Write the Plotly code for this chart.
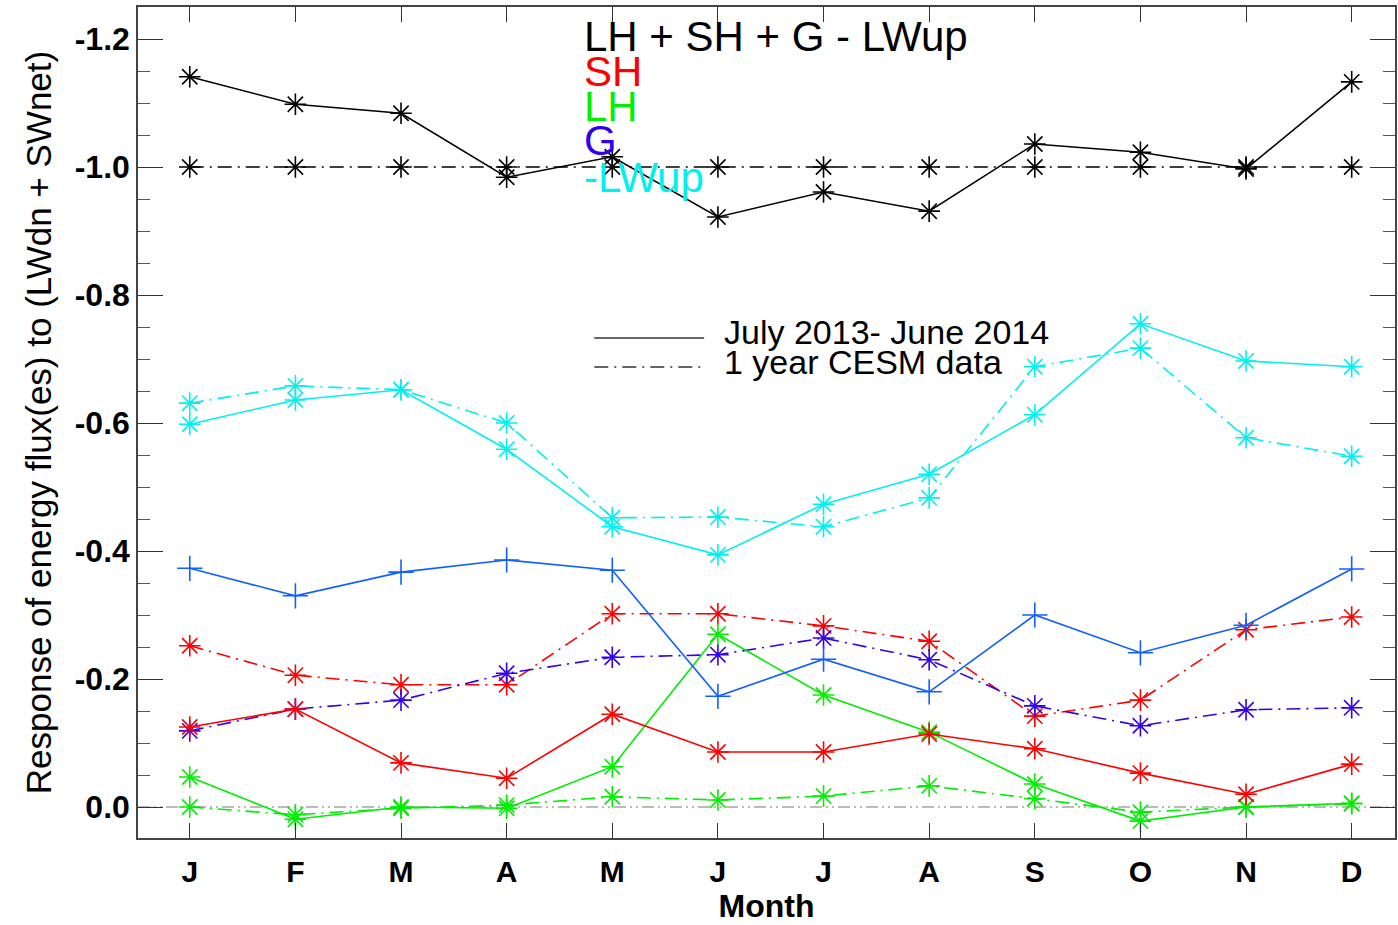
import plotly.graph_objects as go

months = ["J", "F", "M", "A", "M", "J", "J", "A", "S", "O", "N", "D"]
month_idx = list(range(1, 13))

# July 2013 - June 2014 (solid)
total_obs = [-1.141, -1.098, -1.084, -0.984, -1.016, -0.922, -0.961, -0.931, -1.036, -1.023, -0.997, -1.133]
lwup_obs = [-0.598, -0.636, -0.652, -0.559, -0.438, -0.394, -0.473, -0.520, -0.613, -0.755, -0.697, -0.688]
g_obs = [-0.373, -0.330, -0.367, -0.386, -0.370, -0.173, -0.231, -0.180, -0.300, -0.241, -0.284, -0.372]
sh_obs = [-0.125, -0.153, -0.069, -0.045, -0.145, -0.086, -0.086, -0.114, -0.091, -0.053, -0.020, -0.067]
lh_obs = [-0.047, 0.019, 0.000, 0.002, -0.063, -0.270, -0.175, -0.117, -0.036, 0.022, 0.000, -0.006]

# 1 year CESM data (dash-dot)
total_cesm = [-1.0, -1.0, -1.0, -1.0, -1.0, -1.0, -1.0, -1.0, -1.0, -1.0, -1.0, -1.0]
lwup_cesm = [-0.631, -0.658, -0.652, -0.600, -0.452, -0.453, -0.438, -0.483, -0.688, -0.717, -0.577, -0.548]
g_cesm = [-0.119, -0.153, -0.167, -0.209, -0.234, -0.238, -0.264, -0.230, -0.158, -0.127, -0.152, -0.155]
sh_cesm = [-0.252, -0.206, -0.191, -0.191, -0.302, -0.302, -0.283, -0.259, -0.142, -0.167, -0.277, -0.297]
lh_cesm = [0.000, 0.012, 0.002, -0.003, -0.016, -0.011, -0.017, -0.033, -0.013, 0.008, 0.000, -0.005]

BLACK = "#000000"
RED = "#FF0000"
GREEN = "#00EE00"
BLUE_OBS = "#1060FF"
BLUE_CESM = "#3300EE"
CYAN = "#00F0F0"
DASHDOT = "14px,6px,2px,6px"
FONT = "Liberation Sans, Arial, Helvetica, sans-serif"

fig = go.Figure()

def add(y, color, dash, symbol, size):
    fig.add_trace(go.Scatter(
        x=month_idx, y=y, mode="lines+markers",
        line=dict(color=color, width=1.6, dash=dash),
        marker=dict(symbol=symbol, size=size, color=color,
                    line=dict(color=color, width=1.6)),
        showlegend=False, hoverinfo="skip"))

# order: cesm underneath
add(lh_cesm, GREEN, DASHDOT, "asterisk-open", 18)
add(sh_cesm, RED, DASHDOT, "asterisk-open", 18)
add(g_cesm, BLUE_CESM, DASHDOT, "asterisk-open", 18)
add(lwup_cesm, CYAN, DASHDOT, "asterisk-open", 18)
add(total_cesm, BLACK, DASHDOT, "asterisk-open", 18)
add(lh_obs, GREEN, "solid", "asterisk-open", 18)
add(sh_obs, RED, "solid", "asterisk-open", 18)
add(g_obs, BLUE_OBS, "solid", "cross-thin-open", 18)
add(lwup_obs, CYAN, "solid", "asterisk-open", 18)
add(total_obs, BLACK, "solid", "asterisk-open", 18)

# zero reference line
fig.add_shape(type="line", xref="paper", x0=0, x1=1, yref="y", y0=0, y1=0,
              line=dict(color="#BBBBBB", width=2, dash="12px,4px,2px,4px,2px,4px"),
              layer="below")

# component labels
labels = [("LH + SH + G - LWup", BLACK, 0.964),
          ("SH", RED, 0.922),
          ("LH", GREEN, 0.880),
          ("G", BLUE_CESM, 0.839),
          ("-LWup", CYAN, 0.795)]
for txt, col, yy in labels:
    fig.add_annotation(text=txt, xref="paper", yref="paper", x=0.3535, y=yy,
                       xanchor="left", yanchor="middle", showarrow=False,
                       font=dict(family=FONT, size=42, color=col))

# legend (line samples + text)
leg = [("July 2013- June 2014", "solid", 0.6017, 0.6089),
       ("1 year CESM data", DASHDOT, 0.5668, 0.5728)]
for txt, dash, ly, ty in leg:
    fig.add_shape(type="line", xref="paper", yref="paper", x0=0.363, x1=0.4504,
                  y0=ly, y1=ly, line=dict(color="#333333", width=1.3, dash=dash))
    fig.add_annotation(text=txt, xref="paper", yref="paper", x=0.4647, y=ty,
                       xanchor="left", yanchor="middle", showarrow=False,
                       font=dict(family=FONT, size=34, color=BLACK))

fig.update_layout(
    width=1398, height=925,
    margin=dict(l=138, r=1, t=7, b=87),
    paper_bgcolor="white", plot_bgcolor="white",
    font=dict(family=FONT, color=BLACK),
    showlegend=False,
)
fig.update_xaxes(
    range=[0.51, 12.41], tickmode="array", tickvals=month_idx, ticktext=months,
    ticks="inside", ticklen=15, tickwidth=1.2, tickcolor="#333333",
    showline=True, linecolor="#444444", linewidth=1.5, mirror="ticks",
    showgrid=False, zeroline=False, ticklabelstandoff=6,
    tickfont=dict(family=FONT, size=30, color=BLACK, weight="bold"),
    title=dict(text="Month", font=dict(family=FONT, size=32, color=BLACK, weight="bold"),
               standoff=6),
)
fig.update_yaxes(
    range=[0.0484, -1.25], tickmode="array",
    tickvals=[-1.2, -1.0, -0.8, -0.6, -0.4, -0.2, 0.0],
    ticktext=["-1.2", "-1.0", "-0.8", "-0.6", "-0.4", "-0.2", "0.0"],
    ticks="inside", ticklen=25, tickwidth=1.2, tickcolor="#333333",
    minor=dict(dtick=0.05, tick0=0, ticks="inside", ticklen=12, tickcolor="#555555", tickwidth=1),
    showline=True, linecolor="#444444", linewidth=1.5, mirror="ticks",
    showgrid=False, zeroline=False,
    tickfont=dict(family=FONT, size=32, color=BLACK, weight="bold"),
    title=dict(text="Response of energy flux(es) to (LWdn + SWnet)",
               font=dict(family=FONT, size=35, color=BLACK), standoff=12),
)

fig.write_html("out.html")
